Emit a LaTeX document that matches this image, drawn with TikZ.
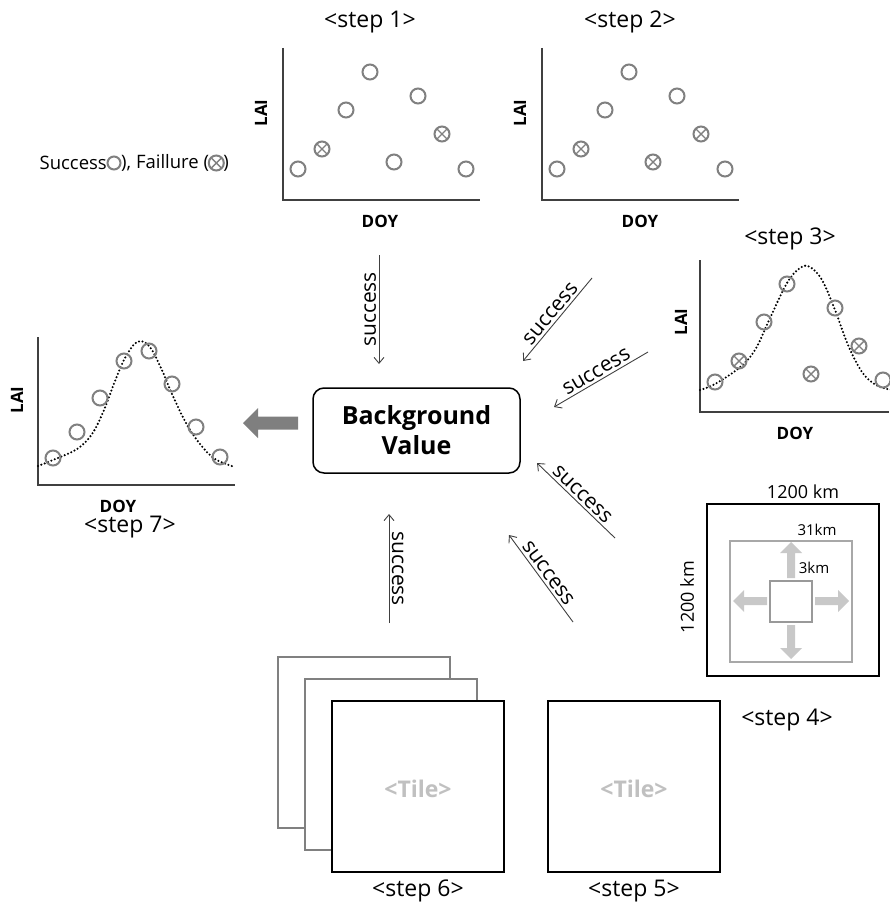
\documentclass[tikz,border=0pt]{standalone}
\usepackage{fontspec}
\setmainfont{Open Sans}
\usetikzlibrary{arrows.meta,calc}
\definecolor{mkgray}{HTML}{808080}
\definecolor{axgray}{HTML}{404040}
\definecolor{boxgray}{HTML}{A8A8A8}
\definecolor{arrgray}{HTML}{C8C8C8}
\definecolor{tilegray}{HTML}{C0C0C0}
\definecolor{bigarr}{HTML}{7F7F7F}
\begin{document}
\begin{tikzpicture}[x=1pt,y=-1pt,
  axis/.style={draw=axgray, line width=1.4pt},
  mk/.style={draw=mkgray, line width=2pt},
  dotc/.style={line width=2.3pt, dash pattern=on 0pt off 3.6pt, line cap=round},
  steplbl/.style={font=\fontsize{23}{26}\selectfont, inner sep=0pt},
  axlbl/.style={font=\bfseries\fontsize{17}{19}\selectfont, inner sep=0pt},
  legtxt/.style={font=\fontsize{18.5}{21}\selectfont, inner sep=0pt},
  conn/.style={draw=axgray, line width=0.9pt, -{Straight Barb[length=6pt,width=10pt]}},
  succ/.style={font=\fontsize{21}{24}\selectfont, inner sep=2.5pt},
  tilebox/.style={line width=2pt, fill=white},
  ok/.pic={\draw[mk] (0,0) circle (7.5);},
  fail/.pic={\draw[mk] (0,0) circle (7.5); \draw[mk,line width=1.4pt] (-4.8,-4.8)--(4.8,4.8) (-4.8,4.8)--(4.8,-4.8);},
]
\useasboundingbox (0,0) rectangle (889,907);

% ---------- legend ----------
\node[legtxt, anchor=east] (leg1) at (107,163) {Success};
\draw[mk] (114,163) circle (6.5);
\node[legtxt, anchor=west] (leg2) at (121,163) {), Faillure (};
\pic at ($(leg2.east)+(7,0)$) {fail};
\node[legtxt, anchor=west] (leg3) at ($(leg2.east)+(14,0)$) {)};

% ---------- step 1 ----------
\node[steplbl] (s1) at (370,22) {<step 1>};
\draw[axis] (283,48) -- (283,200) -- (480,200);
\node[axlbl, rotate=90] (lai1) at (261,113) {LAI};
\node[axlbl] (doy1) at (380,221) {DOY};
\pic at (298,169) {ok};
\pic at (322,149) {fail};
\pic at (346,110) {ok};
\pic at (370,72) {ok};
\pic at (394,162) {ok};
\pic at (418,96) {ok};
\pic at (442,134) {fail};
\pic at (466,169) {ok};

% ---------- step 2 ----------
\node[steplbl] (s2) at (630,22) {<step 2>};
\draw[axis] (542,48) -- (542,200) -- (739,200);
\node[axlbl, rotate=90] (lai2) at (520,113) {LAI};
\node[axlbl] (doy2) at (640,221) {DOY};
\pic at (557,169) {ok};
\pic at (581,149) {fail};
\pic at (605,110) {ok};
\pic at (629,72) {ok};
\pic at (653,162) {fail};
\pic at (677,96) {ok};
\pic at (701,134) {fail};
\pic at (725,169) {ok};

% ---------- step 3 ----------
\node[steplbl] (s3) at (790,239) {<step 3>};
\draw[axis] (700,260) -- (700,412) -- (889,412);
\node[axlbl, rotate=90] (lai3) at (681,322) {LAI};
\node[axlbl] (doy3) at (795,433) {DOY};
\draw[dotc] plot[smooth, tension=0.6] coordinates {(700,390) (715,384) (739,368) (755,350) (770,318) (787,283) (800,268) (810,267) (822,280) (835,310) (848,345) (862,372) (876,385) (892,390)};
\pic at (715,382) {ok};
\pic at (739,361) {fail};
\pic at (764,322) {ok};
\pic at (787,284) {ok};
\pic at (811,374) {fail};
\pic at (835,308) {ok};
\pic at (859,346) {fail};
\pic at (883,380) {ok};

% ---------- step 7 ----------
\draw[axis] (38,337) -- (38,485) -- (235,485);
\node[axlbl, rotate=90] (lai7) at (17,400) {LAI};
\node[axlbl] (doy7) at (118,506) {DOY};
\node[steplbl] (s7) at (130,527) {<step 7>};
\draw[dotc] plot[smooth, tension=0.6] coordinates {(38,466) (53,460) (77,449) (92,434) (104,410) (115,381) (125,358) (137,342) (149,346) (161,368) (172,394) (186,423) (200,444) (215,459) (235,467)};
\pic at (53,458) {ok};
\pic at (77,432) {ok};
\pic at (100,398) {ok};
\pic at (124,361) {ok};
\pic at (149,351) {ok};
\pic at (172,384) {ok};
\pic at (196,427) {ok};
\pic at (220,457) {ok};

% ---------- background value ----------
\node[draw, rounded corners=11pt, line width=1.5pt, minimum width=207pt, minimum height=85pt,
      align=center, font=\bfseries\fontsize{25}{30}\selectfont] (bg) at (416.5,430.5) {Background\\Value};
\fill[bigarr] (243,423) -- (258,408) -- (258,416.5) -- (298,416.5) -- (298,429.5) -- (258,429.5) -- (258,438) -- cycle;

% ---------- success connectors ----------
\coordinate (a1s) at (379,255); \coordinate (a1e) at (379,364);
\coordinate (a2s) at (592,278); \coordinate (a2e) at (523,361);
\coordinate (a3s) at (648,352); \coordinate (a3e) at (554,407);
\coordinate (a4s) at (615,538); \coordinate (a4e) at (537,463);
\coordinate (a5s) at (573,622); \coordinate (a5e) at (509,535);
\coordinate (a6s) at (389,623); \coordinate (a6e) at (389,514);
\draw[conn] (a1s) -- node[succ, midway, rotate=90, anchor=south] {success} (a1e);
\draw[conn] (a2s) -- node[succ, midway, sloped, above] {success} (a2e);
\draw[conn] (a3s) -- node[succ, midway, sloped, above] {success} (a3e);
\draw[conn] (a4s) -- node[succ, midway, sloped, above] {success} (a4e);
\draw[conn] (a5s) -- node[succ, midway, sloped, above] {success} (a5e);
\draw[conn] (a6s) -- node[succ, midway, rotate=-90, anchor=south] {success} (a6e);

% ---------- step 4 ----------
\node[legtxt, font=\fontsize{18}{21}\selectfont] (km1) at (803,492) {1200 km};
\node[legtxt, font=\fontsize{18}{21}\selectfont, rotate=90] (km2) at (687,597) {1200 km};
\draw[line width=2pt] (707,504) rectangle (879,676);
\draw[draw=boxgray, line width=2pt] (730,541) rectangle (852,662);
\draw[draw=mkgray!80, line width=2pt] (770,581) rectangle (812,622);
\node[legtxt, font=\fontsize{15}{18}\selectfont] (km3) at (817,530) {31km};
\node[legtxt, font=\fontsize{15}{18}\selectfont] (km4) at (814,568) {3km};
\fill[arrgray] (787,578) -- (787,553) -- (780,553) -- (791,542) -- (802,553) -- (795,553) -- (795,578) -- cycle;
\fill[arrgray] (787,625) -- (787,648) -- (780,648) -- (791,659) -- (802,648) -- (795,648) -- (795,625) -- cycle;
\fill[arrgray] (767,597) -- (744,597) -- (744,590) -- (733,601) -- (744,612) -- (744,605) -- (767,605) -- cycle;
\fill[arrgray] (815,597) -- (838,597) -- (838,590) -- (849,601) -- (838,612) -- (838,605) -- (815,605) -- cycle;
\node[steplbl] (s4) at (787,720) {<step 4>};

% ---------- step 6 / step 5 tiles ----------
\draw[tilebox, draw=mkgray] (278,657) rectangle (450,828);
\draw[tilebox, draw=mkgray] (305,679) rectangle (477,850);
\draw[tilebox, draw=black] (332,701) rectangle (504,872);
\node[font=\bfseries\fontsize{23}{26}\selectfont, text=tilegray] (t6) at (418,789) {<Tile>};
\node[steplbl] (s6) at (418,891) {<step 6>};
\draw[tilebox, draw=black] (548,701) rectangle (720,872);
\node[font=\bfseries\fontsize{23}{26}\selectfont, text=tilegray] (t5) at (634,789) {<Tile>};
\node[steplbl] (s5) at (634,891) {<step 5>};
\end{tikzpicture}
\end{document}
